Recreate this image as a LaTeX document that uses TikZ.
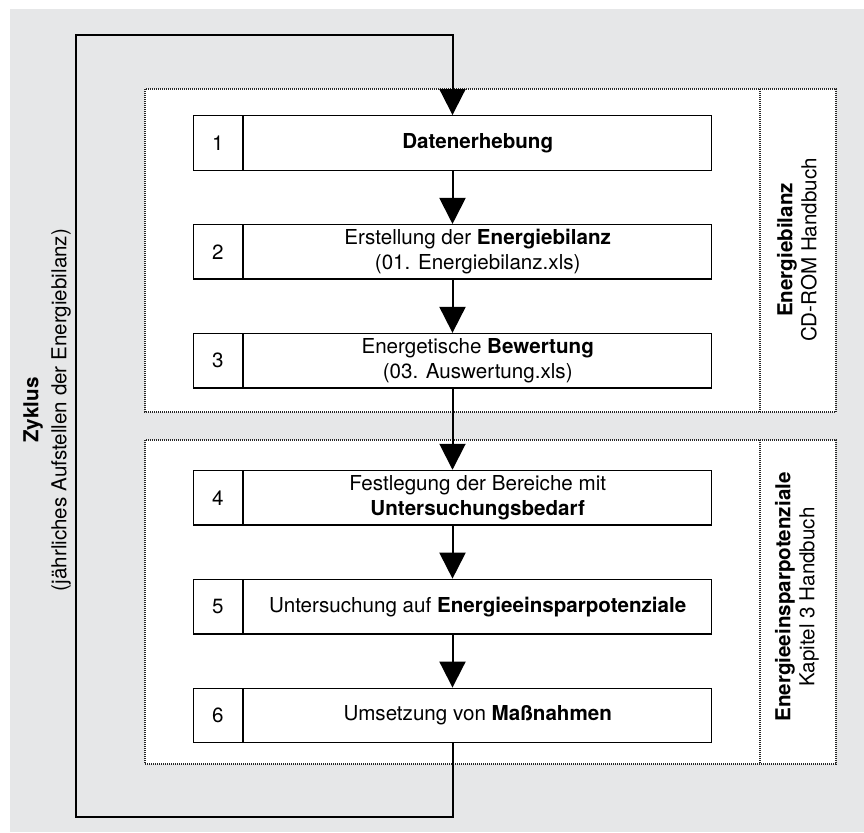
\documentclass[tikz,border=0pt]{standalone}
\usepackage{fontspec}
\setmainfont{TeX Gyre Heros}
\usetikzlibrary{arrows.meta,positioning,shapes.multipart}
\definecolor{panelgray}{HTML}{E6E7E8}
\definecolor{dotgray}{HTML}{262626}

% number cell | text cell
\newcommand{\stepcell}[2]{\parbox[c][27.25pt][c]{24.5pt}{\centering #1}%
  \nodepart{two}\parbox[c][27.25pt][c]{234pt}{\centering #2}}

\tikzset{
  stepnode/.style={draw, fill=white, line width=0.7pt,
    rectangle split, rectangle split horizontal, rectangle split parts=2,
    inner sep=0pt, font=\fontsize{10.3}{12.5}\selectfont},
  flow/.style={-{Triangle[length=13pt,width=13pt]}, line width=1pt},
  zone/.style={draw=dotgray, fill=white, line width=0.6pt,
    dash pattern=on 0.5pt off 0.5pt},
  sidelabel/.style={rotate=90, align=center, inner sep=0pt,
    font=\fontsize{10.3}{12}\selectfont}
}

\begin{document}
\begin{tikzpicture}[x=0.5pt,y=-0.5pt]
  \useasboundingbox (0,0) rectangle (864,832);
  \fill[panelgray] (10,9) rectangle (864,832);

  % ---- Zones -------------------------------------------------
  \draw[zone] (145,89) rectangle (836,412);
  \draw[zone] (760,89) -- (760,412);
  \draw[zone] (145,440) rectangle (836,764);
  \draw[zone] (760,440) -- (760,764);

  \node[sidelabel] (zone1) at (797,250)
    {\textbf{Energiebilanz}\\CD-ROM Handbuch};
  \node[sidelabel] (zone2) at (797,597)
    {\textbf{Energieeinsparpotenziale}\\Kapitel 3 Handbuch};

  % ---- Steps -------------------------------------------------
  \node[stepnode] (b1) at (452.5,143)
    {\stepcell{1}{\textbf{Datenerhebung}}};
  \node[stepnode, below=26.5pt of b1] (b2)
    {\stepcell{2}{Erstellung der \textbf{Energiebilanz}\\(01. Energiebilanz.xls)}};
  \node[stepnode, below=26.5pt of b2] (b3)
    {\stepcell{3}{Energetische \textbf{Bewertung}\\(03. Auswertung.xls)}};
  \node[stepnode, below=40.5pt of b3] (b4)
    {\stepcell{4}{Festlegung der Bereiche mit\\\textbf{Untersuchungsbedarf}}};
  \node[stepnode, below=26.5pt of b4] (b5)
    {\stepcell{5}{Untersuchung auf \textbf{Energieeinsparpotenziale}}};
  \node[stepnode, below=26.5pt of b5] (b6)
    {\stepcell{6}{Umsetzung von \textbf{Maßnahmen}}};

  \foreach \a/\b in {b1/b2,b2/b3,b3/b4,b4/b5,b5/b6}
    \draw[flow] (\a.south) -- (\b.north);

  % ---- Cycle -------------------------------------------------
  \coordinate (loopbl) at (76,817);
  \coordinate (looptl) at (76,35);
  \draw[flow] (b6.south) |- (loopbl) -- (looptl) -| (b1.north);

  \node[sidelabel, font=\fontsize{10.3}{14}\selectfont] (cycle) at (47,410)
    {\textbf{Zyklus}\\(jährliches Aufstellen der Energiebilanz)};

\end{tikzpicture}
\end{document}
